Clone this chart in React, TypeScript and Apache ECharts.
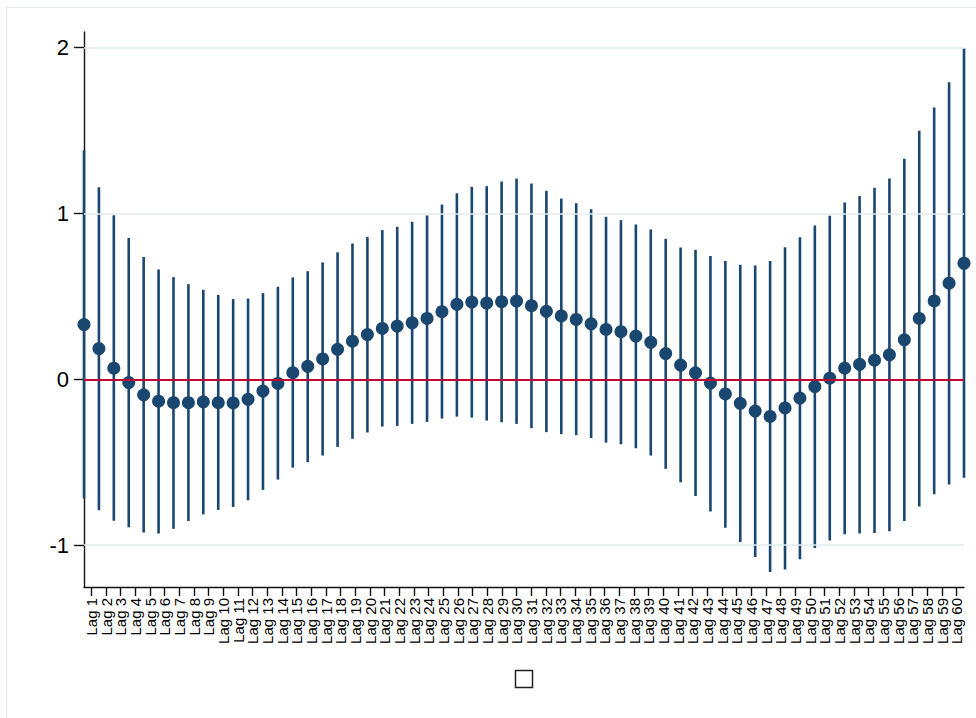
import React, { useEffect, useRef } from "react";
import * as echarts from "echarts";

const lagLabels = [
  "Lag 1", "Lag 2", "Lag 3", "Lag 4", "Lag 5", "Lag 6", "Lag 7", "Lag 8", "Lag 9", "Lag 10",
  "Lag 11", "Lag 12", "Lag 13", "Lag 14", "Lag 15", "Lag 16", "Lag 17", "Lag 18", "Lag 19", "Lag 20",
  "Lag 21", "Lag 22", "Lag 23", "Lag 24", "Lag 25", "Lag 26", "Lag 27", "Lag 28", "Lag 29", "Lag 30",
  "Lag 31", "Lag 32", "Lag 33", "Lag 34", "Lag 35", "Lag 36", "Lag 37", "Lag 38", "Lag 39", "Lag 40",
  "Lag 41", "Lag 42", "Lag 43", "Lag 44", "Lag 45", "Lag 46", "Lag 47", "Lag 48", "Lag 49", "Lag 50",
  "Lag 51", "Lag 52", "Lag 53", "Lag 54", "Lag 55", "Lag 56", "Lag 57", "Lag 58", "Lag 59", "Lag 60",
];

const lagIndex = [
  1, 2, 3, 4, 5, 6, 7, 8, 9, 10, 11, 12, 13, 14, 15, 16, 17, 18, 19, 20,
  21, 22, 23, 24, 25, 26, 27, 28, 29, 30, 31, 32, 33, 34, 35, 36, 37, 38, 39, 40,
  41, 42, 43, 44, 45, 46, 47, 48, 49, 50, 51, 52, 53, 54, 55, 56, 57, 58, 59, 60,
];

const coef = [
  0.330, 0.185, 0.067, -0.020, -0.094, -0.132, -0.141, -0.141, -0.136, -0.141,
  -0.143, -0.121, -0.071, -0.025, 0.040, 0.078, 0.123, 0.181, 0.230, 0.270,
  0.307, 0.321, 0.341, 0.367, 0.408, 0.452, 0.466, 0.460, 0.468, 0.472,
  0.444, 0.410, 0.382, 0.361, 0.335, 0.301, 0.287, 0.261, 0.223, 0.155,
  0.086, 0.039, -0.023, -0.088, -0.145, -0.192, -0.224, -0.173, -0.113, -0.044,
  0.007, 0.067, 0.090, 0.115, 0.148, 0.238, 0.367, 0.473, 0.580, 0.700,
];

const ciUpper = [
  1.382, 1.158, 0.989, 0.853, 0.737, 0.663, 0.616, 0.574, 0.540, 0.509,
  0.484, 0.487, 0.520, 0.558, 0.614, 0.652, 0.705, 0.766, 0.819, 0.859,
  0.900, 0.920, 0.950, 0.988, 1.054, 1.122, 1.161, 1.165, 1.193, 1.211,
  1.181, 1.137, 1.090, 1.062, 1.026, 0.980, 0.960, 0.934, 0.904, 0.847,
  0.795, 0.781, 0.744, 0.714, 0.691, 0.686, 0.714, 0.797, 0.857, 0.928,
  0.986, 1.067, 1.106, 1.155, 1.212, 1.330, 1.499, 1.640, 1.792, 1.995,
];

const ciLower = [
  -0.719, -0.790, -0.853, -0.893, -0.924, -0.931, -0.902, -0.855, -0.815, -0.788,
  -0.770, -0.730, -0.667, -0.605, -0.533, -0.500, -0.460, -0.408, -0.359, -0.321,
  -0.285, -0.281, -0.269, -0.257, -0.237, -0.225, -0.231, -0.249, -0.259, -0.269,
  -0.295, -0.319, -0.331, -0.337, -0.355, -0.382, -0.392, -0.416, -0.460, -0.540,
  -0.622, -0.704, -0.797, -0.896, -0.982, -1.072, -1.162, -1.148, -1.085, -1.018,
  -0.972, -0.935, -0.931, -0.928, -0.917, -0.855, -0.767, -0.693, -0.635, -0.594,
];

const yTicks = [-1, 0, 1, 2];
const gridValues = [-1, 1, 2];
const refValue = 0;

const NAVY = "#1a476f";
const FONT = "'Liberation Sans', Arial, Helvetica, sans-serif";

export default function App() {
  const ref = useRef<HTMLDivElement>(null);

  useEffect(() => {
    if (!ref.current) return;
    const chart = echarts.init(ref.current, null, { renderer: "svg" });
    const axisLineStyle = { color: "#111111", width: 1.4 };

    const option = {
      animation: false,
      backgroundColor: "#ffffff",
      grid: { left: 84, top: 32, width: 880, height: 555, containLabel: false },
      xAxis: [
        {
          type: "category",
          data: lagLabels,
          boundaryGap: true,
          axisLine: { show: true, onZero: false, lineStyle: axisLineStyle },
          axisTick: { show: true, alignWithLabel: true, interval: 0, length: 9, lineStyle: axisLineStyle },
          axisLabel: {
            interval: 0,
            rotate: 90,
            fontSize: 15,
            margin: 11,
            color: "#000000",
            fontFamily: FONT,
          },
          splitLine: { show: false },
        },
        { type: "value", min: 1, max: 60, show: false },
      ],
      yAxis: {
        type: "value",
        min: -1.253,
        max: 2.095,
        axisLine: { show: true, onZero: false, lineStyle: axisLineStyle },
        axisTick: { show: true, length: 10, customValues: yTicks, lineStyle: axisLineStyle },
        axisLabel: {
          customValues: yTicks,
          fontSize: 22,
          margin: 15,
          color: "#000000",
          fontFamily: FONT,
        },
        splitLine: { show: false },
      },
      graphic: [
        {
          type: "rect",
          silent: true,
          z: -10,
          shape: { x: 6.5, y: 7.5, width: 1000, height: 800 },
          style: { fill: "none", stroke: "#e3ebeb", lineWidth: 1.2 },
        },
        {
          type: "rect",
          silent: true,
          shape: { x: 515.5, y: 670.5, width: 17, height: 17 },
          style: { fill: "#ffffff", stroke: "#222222", lineWidth: 1.5 },
        },
      ],
      series: [
        {
          type: "line",
          xAxisIndex: 1,
          data: [],
          z: 1,
          silent: true,
          markLine: {
            silent: true,
            symbol: "none",
            label: { show: false },
            data: [
              ...gridValues.map((v) => ({
                yAxis: v,
                lineStyle: { color: "#e1eced", width: 1.5, type: "solid" },
              })),
              { yAxis: refValue, lineStyle: { color: "#c10534", width: 2.2, type: "solid" } },
            ],
          },
        },
        {
          type: "custom",
          xAxisIndex: 1,
          z: 3,
          silent: true,
          encode: { x: 0, y: [1, 2] },
          data: lagIndex.map((x, i) => [x, ciLower[i], ciUpper[i]]),
          renderItem: (params: any, api: any) => {
            const x = api.value(0);
            const p1 = api.coord([x, api.value(1)]);
            const p2 = api.coord([x, api.value(2)]);
            return {
              type: "line",
              shape: { x1: p1[0], y1: p1[1], x2: p2[0], y2: p2[1] },
              style: { stroke: NAVY, lineWidth: 2.6 },
            };
          },
        },
        {
          type: "scatter",
          xAxisIndex: 1,
          z: 4,
          silent: true,
          symbol: "circle",
          symbolSize: 13,
          itemStyle: { color: NAVY, opacity: 1 },
          data: lagIndex.map((x, i) => [x, coef[i]]),
        },
      ],
    };

    chart.setOption(option as any);
    return () => chart.dispose();
  }, []);

  return (
    <div
      ref={ref}
      style={{ position: "fixed", left: 0, top: 0, width: 976, height: 718, background: "#fff" }}
    />
  );
}
